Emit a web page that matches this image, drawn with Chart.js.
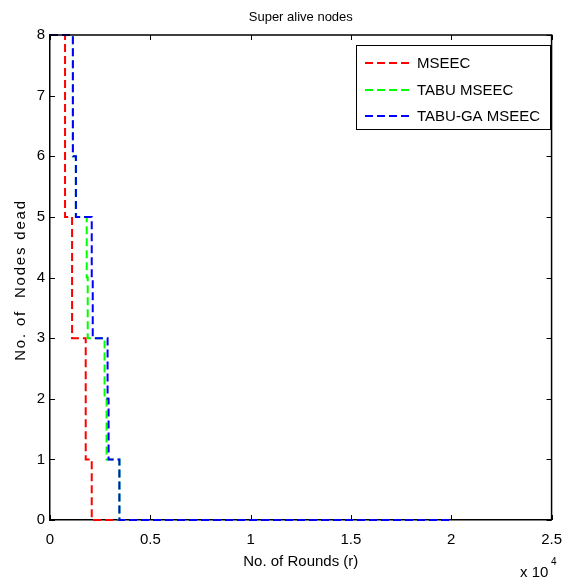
<!DOCTYPE html>
<html>
<head>
<meta charset="utf-8">
<script src="https://cdn.jsdelivr.net/npm/chart.js@4.4.1/dist/chart.umd.min.js"></script>
<style>
    html, body { margin: 0; padding: 0; background: #ffffff; }
    #wrap { width: 573px; height: 580px; position: relative; }
</style>
</head>
<body>
<div id="wrap"><canvas id="aliveChart"></canvas></div>
<script>
// ==== Data (rounds where the count changes, stairs style) ====
const seriesNames = ['MSEEC', 'TABU MSEEC', 'TABU-GA MSEEC'];
const seriesColors = ['#ff0000', '#00ff00', '#0000ff'];

const mseecRounds = [0, 750, 1100, 1780, 2080, 20000];
const mseecDead = [8, 5, 3, 1, 0, 0];

const tabuRounds = [0, 1140, 1290, 1830, 1880, 2720, 2820, 3460, 20000];
const tabuDead = [8, 6, 5, 4, 3, 2, 1, 0, 0];

const tabuGaRounds = [0, 1140, 1290, 2080, 2130, 2870, 2920, 3460, 20000];
const tabuGaDead = [8, 6, 5, 4, 3, 2, 1, 0, 0];

const xTicks = [0, 5000, 10000, 15000, 20000, 25000];
const xTickLabels = ['0', '0.5', '1', '1.5', '2', '2.5'];
const yTicks = [0, 1, 2, 3, 4, 5, 6, 7, 8];

const FONT = "'Liberation Sans', Arial, sans-serif";
const dash = [8, 4];

const toPoints = (xs, ys) => xs.map((x, i) => ({ x: x, y: ys[i] }));

const seriesData = [
    toPoints(mseecRounds, mseecDead),
    toPoints(tabuRounds, tabuDead),
    toPoints(tabuGaRounds, tabuGaDead)
];

// ==== Box, inner ticks, legend and texts (MATLAB look) ====
const matlabFrame = {
    id: 'matlabFrame',
    afterDraw(chart) {
        const { ctx, chartArea: a, scales: { x, y } } = chart;
        ctx.save();

        // top + right border
        ctx.strokeStyle = '#000';
        ctx.lineWidth = 1.5;
        ctx.beginPath();
        ctx.moveTo(a.left, a.top);
        ctx.lineTo(a.right, a.top);
        ctx.lineTo(a.right, a.bottom);
        ctx.stroke();

        // inward ticks
        ctx.lineWidth = 1;
        ctx.beginPath();
        xTicks.forEach(v => {
            const px = Math.round(x.getPixelForValue(v)) + 0.5;
            ctx.moveTo(px, a.bottom); ctx.lineTo(px, a.bottom - 5);
            ctx.moveTo(px, a.top); ctx.lineTo(px, a.top + 5);
        });
        yTicks.forEach(v => {
            const py = Math.round(y.getPixelForValue(v)) + 0.5;
            ctx.moveTo(a.left, py); ctx.lineTo(a.left + 5, py);
            ctx.moveTo(a.right, py); ctx.lineTo(a.right - 5, py);
        });
        ctx.stroke();

        // legend
        const lx = 356, ly = 45, lw = 194, lh = 84;
        ctx.fillStyle = '#fff';
        ctx.fillRect(lx, ly, lw, lh);
        ctx.strokeStyle = '#000';
        ctx.lineWidth = 1;
        ctx.strokeRect(lx + 0.5, ly + 0.5, lw, lh);
        const rows = [63, 90, 116];
        ctx.font = '15px ' + FONT;
        ctx.textBaseline = 'middle';
        ctx.textAlign = 'left';
        seriesNames.forEach((name, i) => {
            ctx.strokeStyle = seriesColors[i];
            ctx.lineWidth = 2;
            ctx.setLineDash(dash);
            ctx.beginPath();
            ctx.moveTo(365, rows[i]);
            ctx.lineTo(409, rows[i]);
            ctx.stroke();
            ctx.setLineDash([]);
            ctx.fillStyle = '#000';
            ctx.fillText(name, 417, rows[i] + 1);
        });

        // titles
        const midX = (a.left + a.right) / 2;
        ctx.fillStyle = '#000';
        ctx.textAlign = 'center';
        ctx.textBaseline = 'alphabetic';
        ctx.font = '13px ' + FONT;
        ctx.fillText('Super alive nodes', midX, 21);
        ctx.font = '15px ' + FONT;
        ctx.fillText('No. of Rounds (r)', midX, 566);

        ctx.save();
        ctx.translate(25, 280);
        ctx.rotate(-Math.PI / 2);
        ctx.font = '15px ' + FONT;
        ctx.letterSpacing = '1.8px';
        ctx.fillText('No. of  Nodes dead', 0, 0);
        ctx.restore();

        // exponent
        ctx.font = '15px ' + FONT;
        ctx.textAlign = 'left';
        ctx.fillText('x 10', 520, 577);
        ctx.font = '10px ' + FONT;
        ctx.fillText('4', 551, 565);

        ctx.restore();
    }
};

const ctx = document.getElementById('aliveChart').getContext('2d');
new Chart(ctx, {
    type: 'line',
    data: {
        datasets: seriesNames.map((name, i) => ({
            label: name,
            data: seriesData[i],
            borderColor: seriesColors[i],
            backgroundColor: seriesColors[i],
            borderWidth: 2,
            borderDash: dash,
            pointRadius: 0,
            stepped: true,
            fill: false,
            clip: false,
            order: 3 - i
        }))
    },
    options: {
        responsive: true,
        maintainAspectRatio: false,
        animation: false,
        layout: { padding: { top: 35, right: 18, bottom: 0, left: 0 } },
        plugins: {
            legend: { display: false },
            title: { display: false },
            tooltip: { enabled: false }
        },
        scales: {
            x: {
                type: 'linear',
                min: 0,
                max: 25000,
                afterFit: s => { s.height = 60; },
                afterBuildTicks: s => { s.ticks = xTicks.map(v => ({ value: v })); },
                ticks: {
                    color: '#000',
                    padding: 11,
                    maxRotation: 0,
                    font: { family: FONT, size: 15 },
                    callback: v => xTickLabels[xTicks.indexOf(v)]
                },
                grid: { display: false, drawTicks: false },
                border: { display: true, color: '#000', width: 1.5 }
            },
            y: {
                min: 0,
                max: 8,
                afterFit: s => { s.width = 50; },
                ticks: {
                    color: '#000',
                    stepSize: 1,
                    padding: 5,
                    font: { family: FONT, size: 15 }
                },
                grid: { display: false, drawTicks: false },
                border: { display: true, color: '#000', width: 1.5 }
            }
        }
    },
    plugins: [matlabFrame]
});
</script>
</body>
</html>
